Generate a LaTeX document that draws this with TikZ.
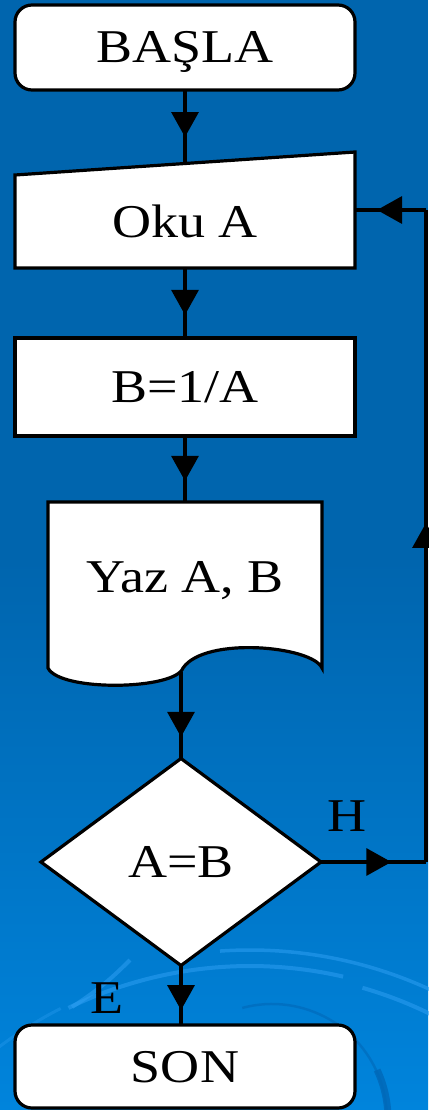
\documentclass[tikz,border=0pt]{standalone}
\usepackage{fontspec}
\setmainfont{Liberation Serif}[FakeStretch=1.15]
\usepackage{tikz}
\usetikzlibrary{arrows.meta,positioning,calc,shapes.geometric,decorations.markings,backgrounds}
\definecolor{bgtop}{RGB}{0,101,174}
\definecolor{bgbot}{RGB}{0,132,220}
\definecolor{arcblue}{RGB}{45,158,242}
\definecolor{arcdark}{RGB}{0,104,184}

\begin{document}
\begin{tikzpicture}[x = 1pt, y = -1pt,
						boxtext/.style = {font = \fontsize{47}{50}\selectfont, text height = 31pt, text depth = 0pt, inner sep = 0pt, outer sep = 0pt},
						terminal/.style = {boxtext, rectangle, rounded corners = 17pt, draw, line width = 3.2pt, fill = white, minimum width = 340pt},
						procbox/.style = {boxtext, rectangle, draw, line width = 3.2pt, fill = white, minimum width = 340pt},
						decision/.style = {boxtext, diamond, draw, line width = 3.2pt, fill = white, minimum width = 280pt, minimum height = 207pt},
						shapeline/.style = {draw, line width = 3.2pt, fill = white, line join = miter},
						branchlabel/.style = {boxtext},
						swirl/.style = {arcblue, opacity = 0.55, line width = #1},
						pathstyle/.style = {line width = 3.2pt, postaction = {decorate},
							decoration = {markings, mark = at position #1 with {\arrow{Triangle[length = 25pt, width = 27pt]}}}}]
		\useasboundingbox (0,0) rectangle (428,1110);
		% Background with the swirl
		\begin{scope}[on background layer]
			\fill [bgtop] (0,0) rectangle (428,560);
			\shade [top color = bgtop, bottom color = bgbot] (0,560) rectangle (428,1110);
			\coordinate (swirlc) at (250,1380);
			\coordinate (swirld) at (272,1119);
			\draw [swirl = 4pt] (swirlc) ++(-116:414) arc [start angle = -116, end angle = -77, radius = 414];
			\draw [swirl = 3.5pt] (swirlc) ++(-94:430) arc [start angle = -94, end angle = -58, radius = 430];
			\draw [swirl = 4pt] (swirlc) ++(-74:408) arc [start angle = -74, end angle = -56, radius = 408];
			\draw [swirl = 3pt, opacity = 0.35] (swirlc) ++(-128:417) arc [start angle = -128, end angle = -117, radius = 417];
			\draw [swirl = 4pt] (72,1007) to [bend right = 6] (130,960);
			\draw [arcdark, opacity = 0.6, line width = 2.5pt] (swirld) ++(-105:115) arc [start angle = -105, end angle = 15, radius = 115];
			\draw [arcdark, opacity = 0.8, line width = 7pt] (swirld) ++(-25:116) arc [start angle = -25, end angle = 15, radius = 116];
		\end{scope}
		% Nodes of the flow
		\node (basla) at (185,47.5) [terminal, minimum height = 85pt] {BAŞLA};
		\node (oku) at (185,221.5) [boxtext, minimum width = 340pt, minimum height = 93pt] {Oku A};
		\node (calc) at (185,387) [procbox, minimum height = 98pt] {B=1/A};
		\node (yaz) at (185,577) [boxtext, minimum width = 274pt, minimum height = 150pt] {Yaz A, B};
		\node (dec) at (181,862) [decision] {A=B};
		\node (son) at (185,1066.5) [terminal, minimum height = 83pt] {SON};
		\node (hlabel) at (347,816) [branchlabel] {H};
		\node (elabel) at (107,998) [branchlabel] {E};
		% Input and output outlines
		\begin{scope}[on background layer]
			\draw [shapeline] (oku.south west) -- (oku.south east) -- ($(oku.north east)+(0,-23)$) -- (oku.north west) -- cycle;
			\draw [shapeline] (yaz.north west) -- (yaz.north east) -- ($(yaz.south east)+(0,16)$)
				.. controls ($(yaz.south east)+(-10,-6)$) and ($(yaz.south)+(20,-16)$) .. ($(yaz.south)+(-2,16)$)
				.. controls ($(yaz.south)+(-10,38)$) and ($(yaz.south west)+(12,40)$) .. ($(yaz.south west)+(0,16)$) -- cycle;
		\end{scope}
		\coordinate (okuin) at ($(oku.north)+(0,-11.5)$);
		\coordinate (okuloop) at ($(oku.east)+(0,-11.5)$);
		\coordinate (yazout) at ($(yaz.south)+(-4,20)$);
		\coordinate (hcorner) at ($(dec.east)+(105,0)$);
		% Paths in between
		\draw [pathstyle = 0.64] (basla) -- (okuin);
		\draw [pathstyle = 0.67] (oku) -- (calc);
		\draw [pathstyle = 0.68] (calc) -- (yaz.north);
		\draw [pathstyle = 0.75] (yazout) -- (dec.north);
		\draw [pathstyle = 0.75] (dec.south) -- (dec.south |- son.north);
		\draw [pathstyle = 0.67] (dec.east) -- (hcorner);
		\draw [pathstyle = 0.52] (hcorner) -- (hcorner |- okuloop);
		\draw [pathstyle = 0.69] (hcorner |- okuloop) -- (okuloop);
	\end{tikzpicture}
\end{document}
